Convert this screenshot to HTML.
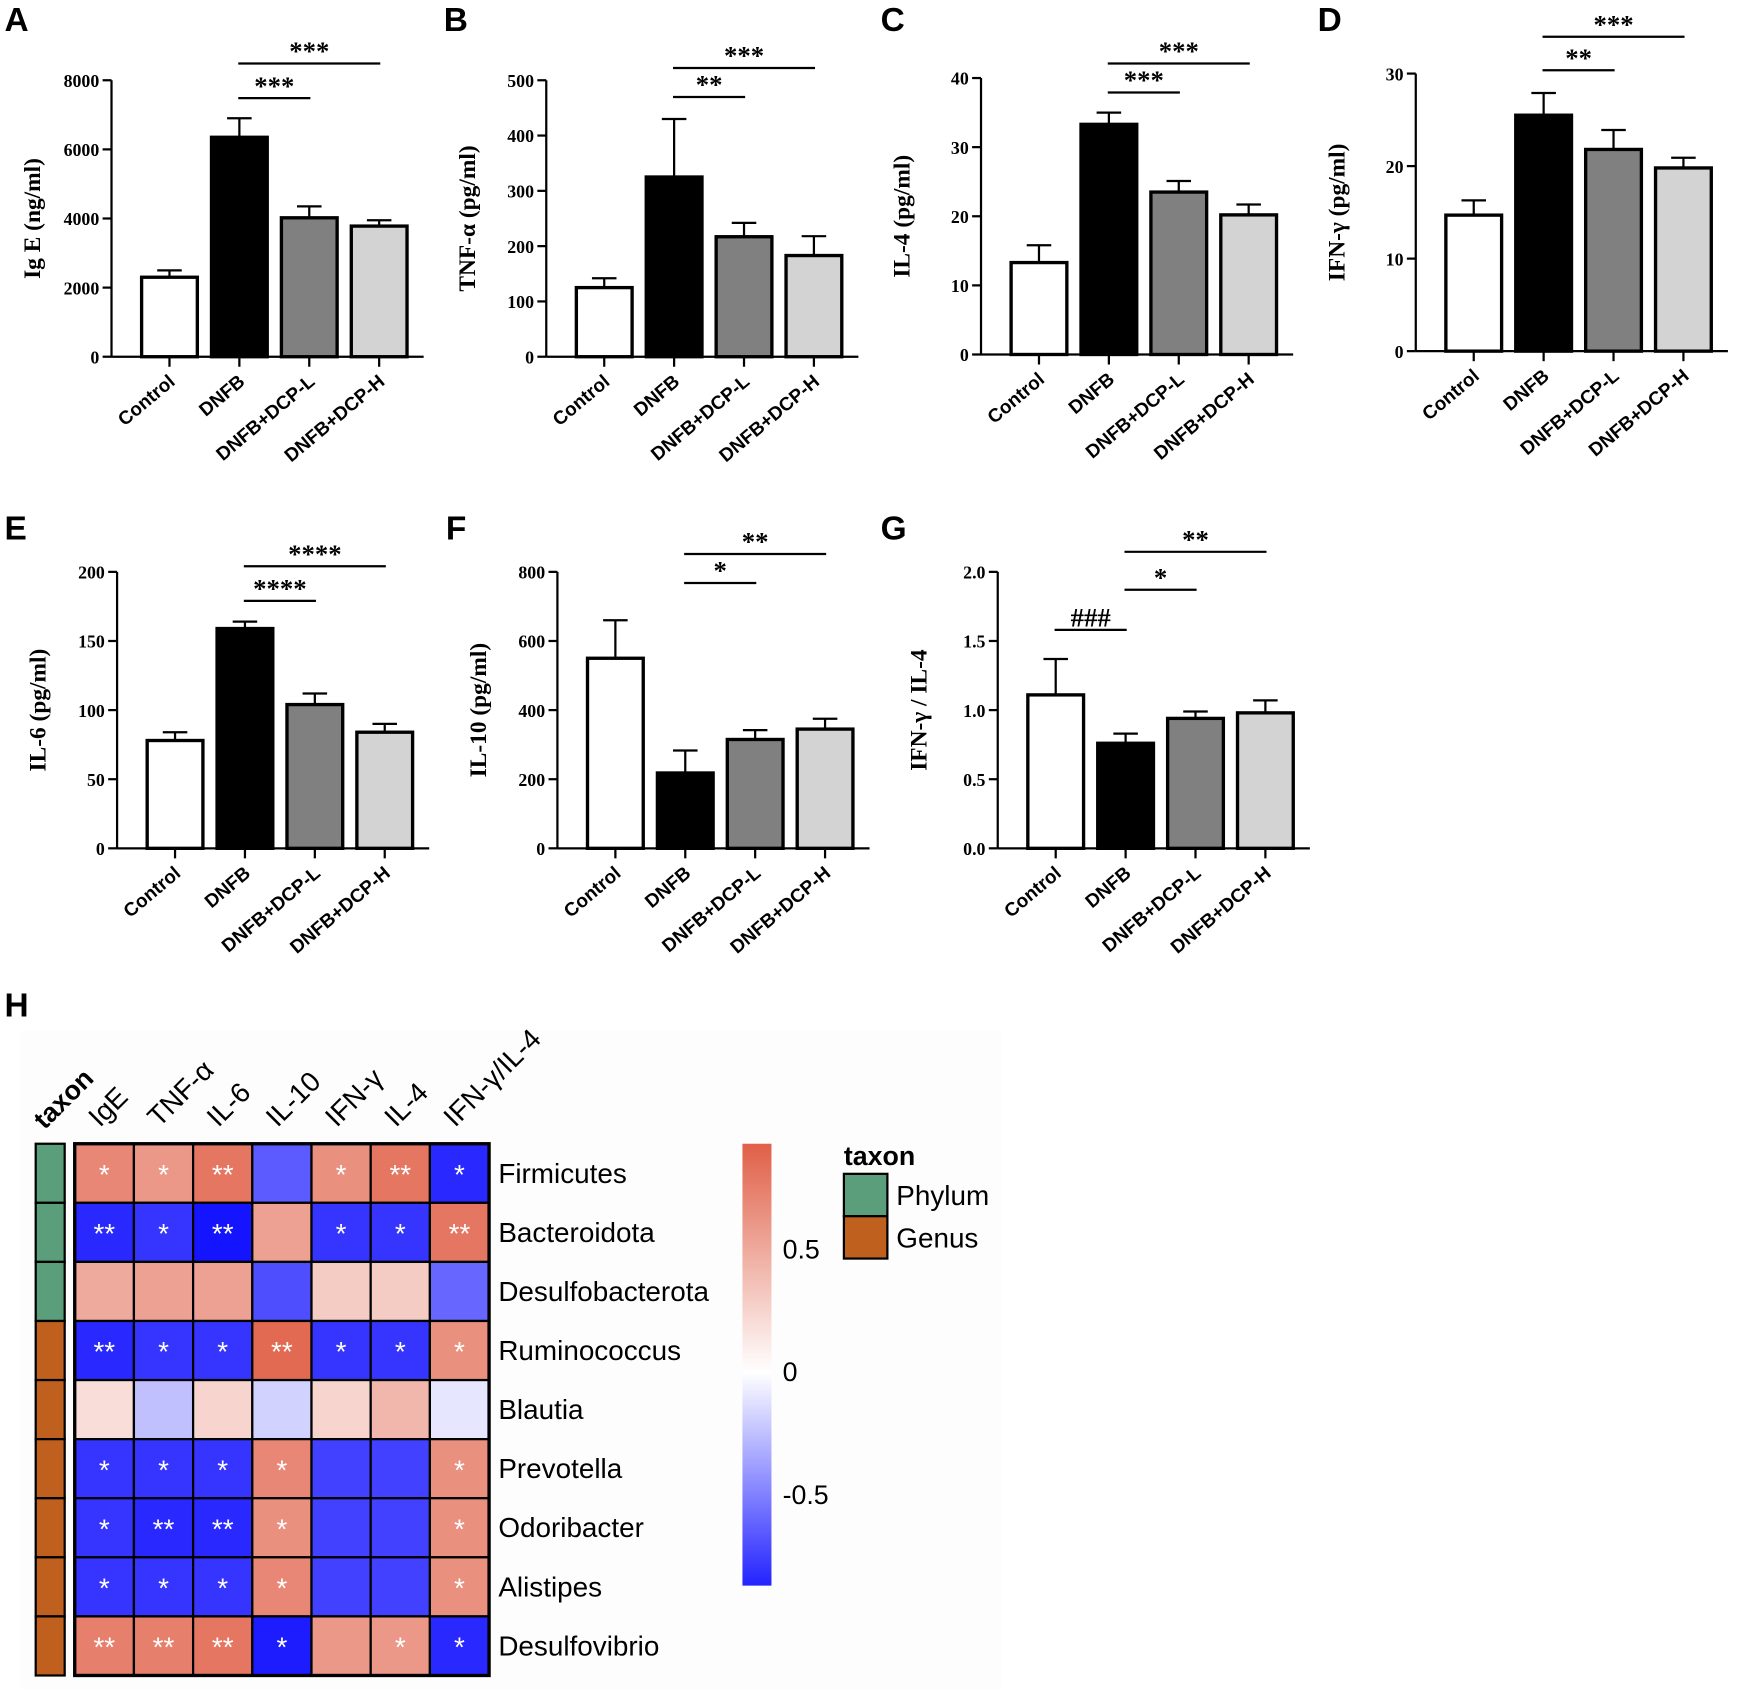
<!DOCTYPE html>
<html><head><meta charset="utf-8"><style>
html,body{margin:0;padding:0;background:#fff}
svg{display:block}
.tk{font-family:"Liberation Serif",serif;font-weight:bold;font-size:16px}
.xl{font-family:"Liberation Sans",sans-serif;font-weight:bold;font-size:17px}
.at{font-family:"Liberation Serif",serif;font-weight:bold;font-size:21px}
.pl{font-family:"Liberation Sans",sans-serif;font-weight:bold;font-size:30px}
.hm{font-family:"Liberation Sans",sans-serif;font-size:25px}
</style></head><body>
<svg id="fig" width="1748" height="1700" viewBox="0 0 1568 1525" xmlns="http://www.w3.org/2000/svg"></svg>
<script>
const groups=["Control","DNFB","DNFB+DCP-L","DNFB+DCP-H"];
const fills=["#ffffff","#000000","#808080","#d3d3d3"];
const igeVals=[2300,6350,4020,3780], igeErr=[200,550,330,170];
const tnfVals=[125,325,217,183], tnfErr=[17,105,25,35];
const il4Vals=[13.3,33.3,23.5,20.2], il4Err=[2.5,1.7,1.6,1.5];
const ifnVals=[14.7,25.5,21.8,19.8], ifnErr=[1.6,2.4,2.1,1.1];
const il6Vals=[78,159,104,84], il6Err=[6,5,8,6];
const il10Vals=[550,218,315,345], il10Err=[110,65,27,30];
const ratioVals=[1.11,0.76,0.94,0.98], ratioErr=[0.26,0.07,0.05,0.09];
const ticksA=[0,2000,4000,6000,8000], ticksB=[0,100,200,300,400,500], ticksC=[0,10,20,30,40], ticksD=[0,10,20,30];
const ticksE=[0,50,100,150,200], ticksF=[0,200,400,600,800], ticksG=[0,0.5,1.0,1.5,2.0];
const heatCols=["IgE","TNF-α","IL-6","IL-10","IFN-γ","IL-4","IFN-γ/IL-4"];
const heatRows=["Firmicutes","Bacteroidota","Desulfobacterota","Ruminococcus","Blautia","Prevotella","Odoribacter","Alistipes","Desulfovibrio"];
const rowTaxon=["Phylum","Phylum","Phylum","Genus","Genus","Genus","Genus","Genus","Genus"];
const heatVals=[
[0.7,0.6,0.8,-0.65,0.65,0.8,-0.85],
[-0.85,-0.8,-0.95,0.55,-0.8,-0.8,0.8],
[0.5,0.55,0.55,-0.7,0.3,0.3,-0.6],
[-0.85,-0.8,-0.8,0.88,-0.8,-0.8,0.65],
[0.2,-0.25,0.25,-0.18,0.25,0.42,-0.1],
[-0.8,-0.8,-0.8,0.7,-0.75,-0.75,0.65],
[-0.8,-0.85,-0.85,0.65,-0.75,-0.75,0.65],
[-0.8,-0.8,-0.8,0.7,-0.75,-0.75,0.65],
[0.75,0.75,0.8,-0.9,0.6,0.6,-0.85]];
const heatStars=[
["*","*","**","","*","**","*"],
["**","*","**","","*","*","**"],
["","","","","","",""],
["**","*","*","**","*","*","*"],
["","","","","","",""],
["*","*","*","*","","","*"],
["*","**","**","*","","","*"],
["*","*","*","*","","","*"],
["**","**","**","*","","*","*"]];
const cbTicks=[0.5,0,-0.5];
const taxonColors={Phylum:"#5a9e7b",Genus:"#c0601e"};

const svg=document.getElementById('fig');
const NS="http://www.w3.org/2000/svg";
function mk(tag,attrs,parent,txt){const e=document.createElementNS(NS,tag);for(const k in attrs)e.setAttribute(k,attrs[k]);if(txt!==undefined)e.textContent=txt;(parent||svg).appendChild(e);return e;}

function panel(o){
  const g=mk('g',{});
  
  
  const L=mk('text',{x:o.lx,y:o.ly,class:'pl'},g,o.letter);
  
  const ymax=o.ticks[o.ticks.length-1];
  const Y=v=>o.y0-(v/ymax)*(o.y0-o.ytop);
  const X=i=>o.ax+52+i*62.7;
  mk('line',{x1:o.ax,y1:o.y0,x2:o.ax,y2:o.ytop,stroke:'#000','stroke-width':2},g);
  o.ticks.forEach(t=>{
    mk('line',{x1:o.ax-8,y1:Y(t),x2:o.ax,y2:Y(t),stroke:'#000','stroke-width':2},g);
    const tx=mk('text',{x:o.ax-11,y:Y(t)+6,'text-anchor':'end',class:'tk'},g,o.fmt?o.fmt(t):t);
    
  });
  const cy=(o.y0+o.ytop)/2;
  const ax=o.ax-64;
  const at=mk('text',{x:ax,y:cy,'text-anchor':'middle',class:'at',transform:`rotate(-90 ${ax} ${cy})`},g,o.title);
  
  mk('line',{x1:o.ax,y1:o.y0,x2:o.ax+280,y2:o.y0,stroke:'#000','stroke-width':2},g);
  o.vals.forEach((v,i)=>{
    const x=X(i);
    const top=Y(v+o.err[i]);
    mk('line',{x1:x,y1:Y(v),x2:x,y2:top,stroke:'#000','stroke-width':2},g);
    mk('line',{x1:x-11,y1:top,x2:x+11,y2:top,stroke:'#000','stroke-width':2},g);
    const b=mk('rect',{x:x-25,y:Y(v),width:50,height:o.y0-Y(v),fill:fills[i],stroke:'#000','stroke-width':3},g);
    
    
    mk('line',{x1:x,y1:o.y0,x2:x,y2:o.y0+9,stroke:'#000','stroke-width':2},g);
    const xl=mk('text',{x:x+6,y:o.y0+24,'text-anchor':'end',class:'xl',transform:`rotate(-40 ${x+6} ${o.y0+24})`},g,groups[i]);
    
  });
  o.sig.forEach(s=>{
    mk('line',{x1:X(s[0])-1,y1:s[2],x2:X(s[1])+1,y2:s[2],stroke:'#000','stroke-width':2},g);
    const st=mk('text',{x:(X(s[0])+X(s[1]))/2,y:s[2]-3,'text-anchor':'middle',class:'tk',style:'font-size:24px'},g,s[3]);
    
  });
}
panel({letter:'A',lx:4,ly:28,ax:100,y0:320,ytop:72,ticks:ticksA,vals:igeVals,err:igeErr,title:'Ig E (ng/ml)',sig:[[1,2,88,'***'],[1,3,57,'***']]});
panel({letter:'B',lx:398,ly:28,ax:490,y0:320,ytop:72,ticks:ticksB,vals:tnfVals,err:tnfErr,title:'TNF-α (pg/ml)',sig:[[1,2,87,'**'],[1,3,61,'***']]});
panel({letter:'C',lx:790,ly:28,ax:880,y0:318,ytop:70,ticks:ticksC,vals:il4Vals,err:il4Err,title:'IL-4 (pg/ml)',sig:[[1,2,83,'***'],[1,3,57,'***']]});
panel({letter:'D',lx:1182,ly:28,ax:1270,y0:315,ytop:66,ticks:ticksD,vals:ifnVals,err:ifnErr,title:'IFN-γ (pg/ml)',sig:[[1,2,63,'**'],[1,3,33,'***']]});
panel({letter:'E',lx:4,ly:484,ax:105,y0:761,ytop:513,ticks:ticksE,vals:il6Vals,err:il6Err,title:'IL-6 (pg/ml)',sig:[[1,2,539,'****'],[1,3,508,'****']]});
panel({letter:'F',lx:400,ly:484,ax:500,y0:761,ytop:513,ticks:ticksF,vals:il10Vals,err:il10Err,title:'IL-10 (pg/ml)',sig:[[1,2,523,'*'],[1,3,497,'**']]});
panel({letter:'G',lx:790,ly:484,ax:895,y0:761,ytop:513,ticks:ticksG,vals:ratioVals,err:ratioErr,title:'IFN-γ / IL-4',fmt:t=>t.toFixed(1),sig:[[0,1,565,'###'],[1,2,529,'*'],[1,3,495,'**']]});

const hg=mk('g',{});

const hL=mk('text',{x:4,y:912,class:'pl'},hg,'H');

mk('rect',{x:18,y:925,width:880,height:590,fill:'#fdfdfd'},hg);
const hx0=67,hy0=1026,cw=53.1,ch=53;
function col(v){
  const t=Math.min(Math.abs(v)/0.93,1);
  const c=v>=0?[224,96,72]:[20,20,255];
  const r=Math.round(255+(c[0]-255)*t),gg=Math.round(255+(c[1]-255)*t),b=Math.round(255+(c[2]-255)*t);
  return `rgb(${r},${gg},${b})`;
}
heatRows.forEach((rn,r)=>{
  const tb=mk('rect',{x:32,y:hy0+r*ch,width:26,height:ch,fill:taxonColors[rowTaxon[r]],stroke:'#000','stroke-width':2},hg);
  
  heatCols.forEach((cn,c)=>{
    const v=heatVals[r][c];
    const cell=mk('rect',{x:hx0+c*cw,y:hy0+r*ch,width:cw,height:ch,fill:col(v),stroke:'#000','stroke-width':2},hg);
    
    if(heatStars[r][c]) mk('text',{x:hx0+c*cw+cw/2,y:hy0+r*ch+36,'text-anchor':'middle',fill:'#fff',class:'hm',style:'font-size:25px'},hg,heatStars[r][c]);
  });
  const rl=mk('text',{x:447,y:hy0+r*ch+35,class:'hm'},hg,rn);
  
});
mk('rect',{x:hx0,y:hy0,width:cw*7,height:ch*9,fill:'none',stroke:'#000','stroke-width':3},hg);
heatCols.forEach((cn,c)=>{
  const x=hx0+c*cw+cw/2-4,y=hy0-14;
  const t=mk('text',{x:x,y:y,class:'hm',transform:`rotate(-45 ${x} ${y})`},hg,cn);
  
});
const tx=mk('text',{x:40,y:1014,class:'hm',style:'font-weight:bold;font-size:24px',transform:'rotate(-45 40 1014)'},hg,'taxon');

const cbTop=1026,cbBot=1422,cb0=1230,cbScale=220;
for(let y=cbTop;y<cbBot;y+=2){mk('rect',{x:666,y:y,width:26,height:2.4,fill:col((cb0-y)/cbScale)},hg);}
cbTicks.forEach(t=>{
  const l=mk('text',{x:702,y:cb0-t*cbScale+9,class:'hm',style:'font-size:24px'},hg,t);
  
});
const lt=mk('text',{x:757,y:1045,class:'hm',style:'font-weight:bold;font-size:24px'},hg,'taxon');

["Phylum","Genus"].forEach((n,i)=>{
  const r=mk('rect',{x:757,y:1053+i*38,width:39,height:38,fill:taxonColors[n],stroke:'#000','stroke-width':2},hg);
  
  const t=mk('text',{x:804,y:1081+i*38,class:'hm'},hg,n);
  
});
</script>
</body></html>
